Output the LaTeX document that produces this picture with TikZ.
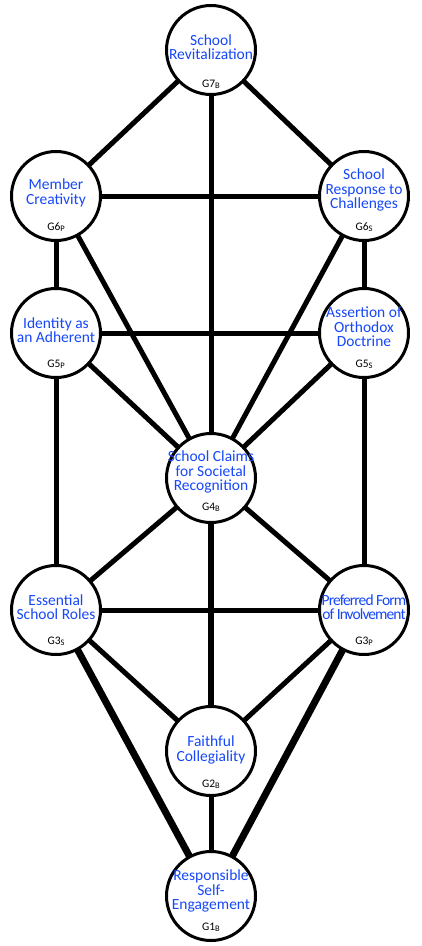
\documentclass[tikz,border=0pt]{standalone}
\usepackage{fontspec}
\setmainfont{Carlito}
\usetikzlibrary{shapes, backgrounds}
\definecolor{pathblue}{RGB}{22,72,250}

\tikzset{
  sefira/.style={circle, draw, line width=3pt, fill=white, minimum size=89pt, inner sep=0pt},
  title/.style={text=pathblue, align=center, inner sep=0pt, font=\fontsize{15.5}{14.5}\selectfont},
  gcode/.style={inner sep=0pt, font=\fontsize{11.5}{11}\selectfont},
  pathline/.style={line width=5pt},
  widepath/.style={line width=7pt}
}
\newcommand{\gsub}[1]{\raisebox{-1pt}{\fontsize{8.5}{8}\selectfont #1}}

\begin{document}
\begin{tikzpicture}[x=1pt, y=-1pt]
        \pgfmathsetmacro{\colL}{56}
        \pgfmathsetmacro{\colM}{211}
        \pgfmathsetmacro{\colR}{364}
        \useasboundingbox (0,0) rectangle (422,946);

        \node[sefira] (g7b) at (\colM,50) {};
        \node[sefira] (g6p) at (\colL,196) {};
        \node[sefira] (g6s) at (\colR,196) {};
        \node[sefira] (g5p) at (\colL,333) {};
        \node[sefira] (g5s) at (\colR,333) {};
        \node[sefira] (g4b) at (\colM,478) {};
        \node[sefira] (g3s) at (\colL,610) {};
        \node[sefira] (g3p) at (\colR,610) {};
        \node[sefira] (g2b) at (\colM,751) {};
        \node[sefira] (g1b) at (\colM,896) {};

        \begin{scope}[on background layer]
        \foreach \a/\b in {g7b/g6p, g7b/g6s, g7b/g4b, g6p/g6s, g6p/g5p, g6p/g4b, g6s/g5s, g6s/g4b,
                           g5p/g5s, g5p/g4b, g5p/g3s, g5s/g4b, g5s/g3p, g4b/g3s, g4b/g3p,
                           g3s/g3p, g3s/g2b, g3p/g2b, g2b/g1b}
            \draw[pathline] (\a.center) -- (\b.center);
        \draw[pathline, line width=6pt] (g4b.center) -- (g2b.center);
        \draw[widepath] (g3s.center) -- (g1b.center);
        \draw[widepath] (g3p.center) -- (g1b.center);
        \end{scope}

        \node[title] (t7b) at ([yshift=3pt]g7b.center) {School\\Revitalization};
        \node[title] (t6p) at ([yshift=3pt]g6p.center) {Member\\Creativity};
        \node[title] (t6s) at ([yshift=6pt]g6s.center) {School\\Response to\\Challenges};
        \node[title] (t5p) at ([yshift=3pt]g5p.center) {Identity as\\an Adherent};
        \node[title] (t5s) at ([yshift=6pt]g5s.center) {Assertion of\\Orthodox\\Doctrine};
        \node[title] (t4b) at ([yshift=6pt]g4b.center) {School Claims\\for Societal\\Recognition};
        \node[title] (t3s) at ([yshift=3pt]g3s.center) {Essential\\School Roles};
        \node[title, font=\fontsize{15.5}{14.5}\selectfont\addfontfeature{LetterSpace=-6}] (t3p) at ([yshift=3pt]g3p.center) {Preferred Form\\of Involvement};
        \node[title] (t2b) at ([yshift=1pt]g2b.center) {Faithful\\Collegiality};
        \node[title] (t1b) at ([yshift=5pt]g1b.center) {Responsible\\Self-\\Engagement};

        \node[gcode] (c7b) at ([yshift=-34pt]g7b.center) {G7\gsub{B}};
        \node[gcode] (c6p) at ([yshift=-31pt]g6p.center) {G6\gsub{P}};
        \node[gcode] (c6s) at ([yshift=-31pt]g6s.center) {G6\gsub{S}};
        \node[gcode] (c5p) at ([yshift=-31pt]g5p.center) {G5\gsub{P}};
        \node[gcode] (c5s) at ([yshift=-31pt]g5s.center) {G5\gsub{S}};
        \node[gcode] (c4b) at ([yshift=-29pt]g4b.center) {G4\gsub{B}};
        \node[gcode] (c3s) at ([yshift=-31pt]g3s.center) {G3\gsub{S}};
        \node[gcode] (c3p) at ([yshift=-31pt]g3p.center) {G3\gsub{P}};
        \node[gcode] (c2b) at ([yshift=-33pt]g2b.center) {G2\gsub{B}};
        \node[gcode] (c1b) at ([yshift=-31pt]g1b.center) {G1\gsub{B}};
    \end{tikzpicture}
\end{document}
